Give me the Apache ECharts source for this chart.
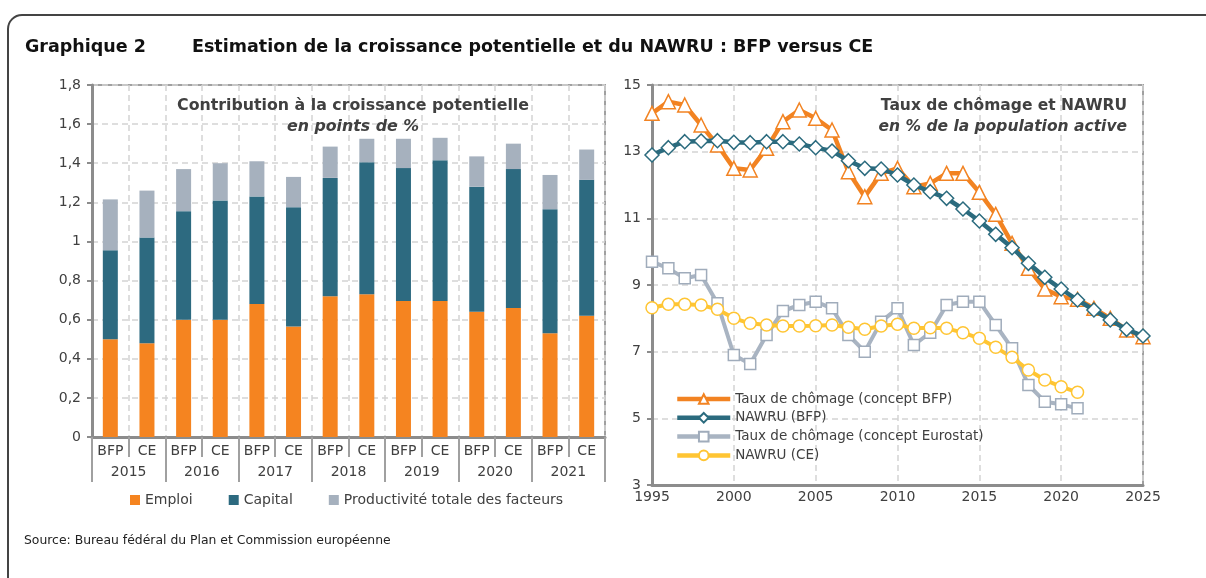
<!DOCTYPE html>
<html>
<head>
<meta charset="utf-8">
<script src="https://cdn.jsdelivr.net/npm/echarts@6/dist/echarts.min.js"></script>
<style>
html,body{margin:0;padding:0;background:#fff;}
#c{width:1206px;height:578px;}
</style>
</head>
<body>
<div id="c"></div>
<script>
// ---- Left chart data ----
const barGroups = ['BFP', 'CE'];
const barYears = ['2015', '2016', '2017', '2018', '2019', '2020', '2021'];
const emploi  = [0.50, 0.48, 0.60, 0.60, 0.68, 0.565, 0.72, 0.73, 0.695, 0.695, 0.64, 0.66, 0.53, 0.62];
const capital = [0.455, 0.54, 0.555, 0.61, 0.55, 0.61, 0.605, 0.675, 0.68, 0.72, 0.64, 0.71, 0.635, 0.695];
const ptf     = [0.26, 0.24, 0.215, 0.19, 0.18, 0.155, 0.16, 0.12, 0.15, 0.115, 0.155, 0.13, 0.175, 0.155];
const leftTickLabels = ['0', '0,2', '0,4', '0,6', '0,8', '1', '1,2', '1,4', '1,6', '1,8'];

// ---- Right chart data ----
const lineYears = [1995,1996,1997,1998,1999,2000,2001,2002,2003,2004,2005,2006,2007,2008,2009,2010,
                   2011,2012,2013,2014,2015,2016,2017,2018,2019,2020,2021,2022,2023,2024,2025];
const chomageBFP = [14.15,14.5,14.4,13.8,13.2,12.5,12.45,13.1,13.9,14.25,14.0,13.65,12.4,11.65,12.35,12.5,
                    11.95,12.05,12.35,12.35,11.78,11.12,10.25,9.5,8.88,8.65,8.57,8.3,8.0,7.65,7.45];
const nawruBFP   = [12.9,13.12,13.3,13.32,13.33,13.28,13.27,13.3,13.3,13.23,13.12,13.02,12.73,12.5,12.48,12.3,
                    12.0,11.8,11.6,11.28,10.92,10.52,10.12,9.65,9.23,8.88,8.55,8.25,7.95,7.67,7.47];
const chomageEurostat = [9.7,9.5,9.2,9.3,8.45,6.9,6.63,7.5,8.22,8.4,8.5,8.3,7.5,7.0,7.9,8.3,
                         7.2,7.57,8.4,8.5,8.5,7.8,7.1,6.0,5.5,5.42,5.3];
const nawruCE    = [8.32,8.42,8.42,8.4,8.27,8.0,7.85,7.8,7.77,7.77,7.78,7.8,7.73,7.67,7.77,7.82,
                    7.7,7.72,7.7,7.57,7.4,7.13,6.83,6.45,6.15,5.95,5.78];

const barCats = [];
barYears.forEach(y => barGroups.forEach(g => barCats.push(g + '|' + y)));
const pairs = arr => arr.map((v, i) => [lineYears[i], v]);

const FONT = 'DejaVu Sans';
const TXT = '#404040';
const AXIS = '#8c8c8c';
const GRIDC = '#d4d4d4';

const chart = echarts.init(document.getElementById('c'), null, {renderer: 'canvas'});
chart.setOption({
  animation: false,
  textStyle: {fontFamily: FONT},
  graphic: [
    {type: 'rect', shape: {x: 8, y: 15, width: 1400, height: 800, r: 14},
     style: {fill: 'none', stroke: '#444', lineWidth: 2}, silent: true},
    {type: 'text', left: 25, top: 38, style: {text: 'Graphique 2', font: 'bold 17.5px ' + FONT, fill: '#111'}},
    {type: 'text', left: 192, top: 38, style: {text: 'Estimation de la croissance potentielle et du NAWRU : BFP versus CE', font: 'bold 17.5px ' + FONT, fill: '#111'}},
    {type: 'text', left: 24, top: 535, style: {text: 'Source: Bureau fédéral du Plan et Commission européenne', font: '12.4px ' + FONT, fill: '#222'}}
  ],
  title: [
    {text: 'Contribution à la croissance potentielle', subtext: 'en points de %',
     left: 348, top: 93, textAlign: 'center', itemGap: 5,
     textStyle: {fontSize: 15.8, fontWeight: 'bold', color: TXT, fontFamily: FONT},
     subtextStyle: {fontSize: 15.8, fontWeight: 'bold', fontStyle: 'italic', color: TXT, fontFamily: FONT}},
    {text: 'Taux de chômage et NAWRU', subtext: 'en % de la population active',
     left: 1122, top: 93, textAlign: 'right', itemGap: 5,
     textStyle: {fontSize: 15.5, fontWeight: 'bold', color: TXT, fontFamily: FONT},
     subtextStyle: {fontSize: 15.5, fontWeight: 'bold', fontStyle: 'italic', color: TXT, fontFamily: FONT}}
  ],
  legend: [
    {data: ['Emploi', 'Capital', 'Productivité totale des facteurs'],
     left: 125, top: 488, icon: 'rect', itemWidth: 10, itemHeight: 10, itemGap: 36,
     textStyle: {fontSize: 14, color: TXT, fontFamily: FONT}},
    {data: ['Taux de chômage (concept BFP)', 'NAWRU (BFP)', 'Taux de chômage (concept Eurostat)', 'NAWRU (CE)'],
     orient: 'vertical', left: 670, top: 387, itemWidth: 53, itemHeight: 12, itemGap: 4.8,
     lineStyle: {width: 4.5},
     textStyle: {fontSize: 13.5, color: TXT, fontFamily: FONT}}
  ],
  grid: [
    {left: 92, top: 85, width: 513, height: 352, show: true, borderColor: '#a0a0a0', borderWidth: 2, containLabel: false},
    {left: 652, top: 85, width: 491, height: 400, show: true, borderColor: '#a0a0a0', borderWidth: 2, containLabel: false}
  ],
  xAxis: [
    {type: 'category', gridIndex: 0, data: barCats, position: 'bottom',
     axisLine: {lineStyle: {color: AXIS, width: 3}},
     axisTick: {show: true, interval: 0, length: 20, lineStyle: {color: '#a0a0a0', width: 2}},
     axisLabel: {interval: 0, margin: 7, fontSize: 14, color: TXT, formatter: v => v.split('|')[0]},
     splitLine: {show: true, interval: 0, lineStyle: {color: GRIDC, type: [6, 4], width: 1.5}}},
    {type: 'category', gridIndex: 0, data: barYears, position: 'bottom',
     axisLine: {show: false},
     axisTick: {show: true, interval: 0, length: 45, lineStyle: {color: '#a0a0a0', width: 2}},
     axisLabel: {interval: 0, margin: 28, fontSize: 14, color: TXT},
     splitLine: {show: false}},
    {type: 'value', gridIndex: 1, min: 1995, max: 2025, interval: 5,
     axisLine: {show: true, onZero: false, lineStyle: {color: AXIS, width: 3}},
     axisTick: {show: false},
     axisLabel: {margin: 5, fontSize: 14, color: TXT, formatter: v => String(v)},
     splitLine: {show: true, lineStyle: {color: GRIDC, type: [6, 4], width: 1.5}}}
  ],
  yAxis: [
    {type: 'value', gridIndex: 0, min: 0, max: 1.8, interval: 0.2,
     axisLine: {show: true, lineStyle: {color: AXIS, width: 3}},
     axisTick: {show: true, length: 5, lineStyle: {color: AXIS, width: 2}},
     axisLabel: {margin: 11, fontSize: 14, color: TXT,
                 formatter: v => leftTickLabels[Math.round(v / 0.2)]},
     splitLine: {show: true, lineStyle: {color: GRIDC, type: [6, 4], width: 1.5}}},
    {type: 'value', gridIndex: 1, min: 3, max: 15, interval: 2,
     axisLine: {show: true, onZero: false, lineStyle: {color: AXIS, width: 3}},
     axisTick: {show: true, length: 5, lineStyle: {color: AXIS, width: 2}},
     axisLabel: {margin: 11, fontSize: 14, color: TXT},
     splitLine: {show: true, lineStyle: {color: GRIDC, type: [6, 4], width: 1.5}}}
  ],
  series: [
    {name: 'Emploi', type: 'bar', stack: 'b', xAxisIndex: 0, yAxisIndex: 0, barWidth: 15,
     itemStyle: {color: '#f58420'}, data: emploi},
    {name: 'Capital', type: 'bar', stack: 'b', xAxisIndex: 0, yAxisIndex: 0, barWidth: 15,
     itemStyle: {color: '#2d6a80'}, data: capital},
    {name: 'Productivité totale des facteurs', type: 'bar', stack: 'b', xAxisIndex: 0, yAxisIndex: 0, barWidth: 15,
     itemStyle: {color: '#a6b1be'}, data: ptf},

    {name: 'Taux de chômage (concept Eurostat)', type: 'line', xAxisIndex: 2, yAxisIndex: 1,
     data: pairs(chomageEurostat), symbol: 'rect', symbolSize: 11, showSymbol: true, z: 3,
     lineStyle: {color: '#a9b4c2', width: 4}, itemStyle: {color: '#fff', borderColor: '#a0acbb', borderWidth: 1.5}},
    {name: 'NAWRU (CE)', type: 'line', xAxisIndex: 2, yAxisIndex: 1,
     data: pairs(nawruCE), symbol: 'circle', symbolSize: 12, showSymbol: true, z: 3,
     lineStyle: {color: '#ffc533', width: 4}, itemStyle: {color: '#fff', borderColor: '#ffc533', borderWidth: 1.5}},
    {name: 'Taux de chômage (concept BFP)', type: 'line', xAxisIndex: 2, yAxisIndex: 1,
     data: pairs(chomageBFP), symbol: 'triangle', symbolSize: 14, showSymbol: true, z: 4,
     lineStyle: {color: '#f28322', width: 4.5}, itemStyle: {color: '#fff', borderColor: '#f28322', borderWidth: 1.5}},
    {name: 'NAWRU (BFP)', type: 'line', xAxisIndex: 2, yAxisIndex: 1,
     data: pairs(nawruBFP), symbol: 'diamond', symbolSize: 14, showSymbol: true, z: 5,
     lineStyle: {color: '#2b6b7e', width: 4.5}, itemStyle: {color: '#fff', borderColor: '#2b6b7e', borderWidth: 1.5}}
  ]
});
</script>
</body>
</html>
